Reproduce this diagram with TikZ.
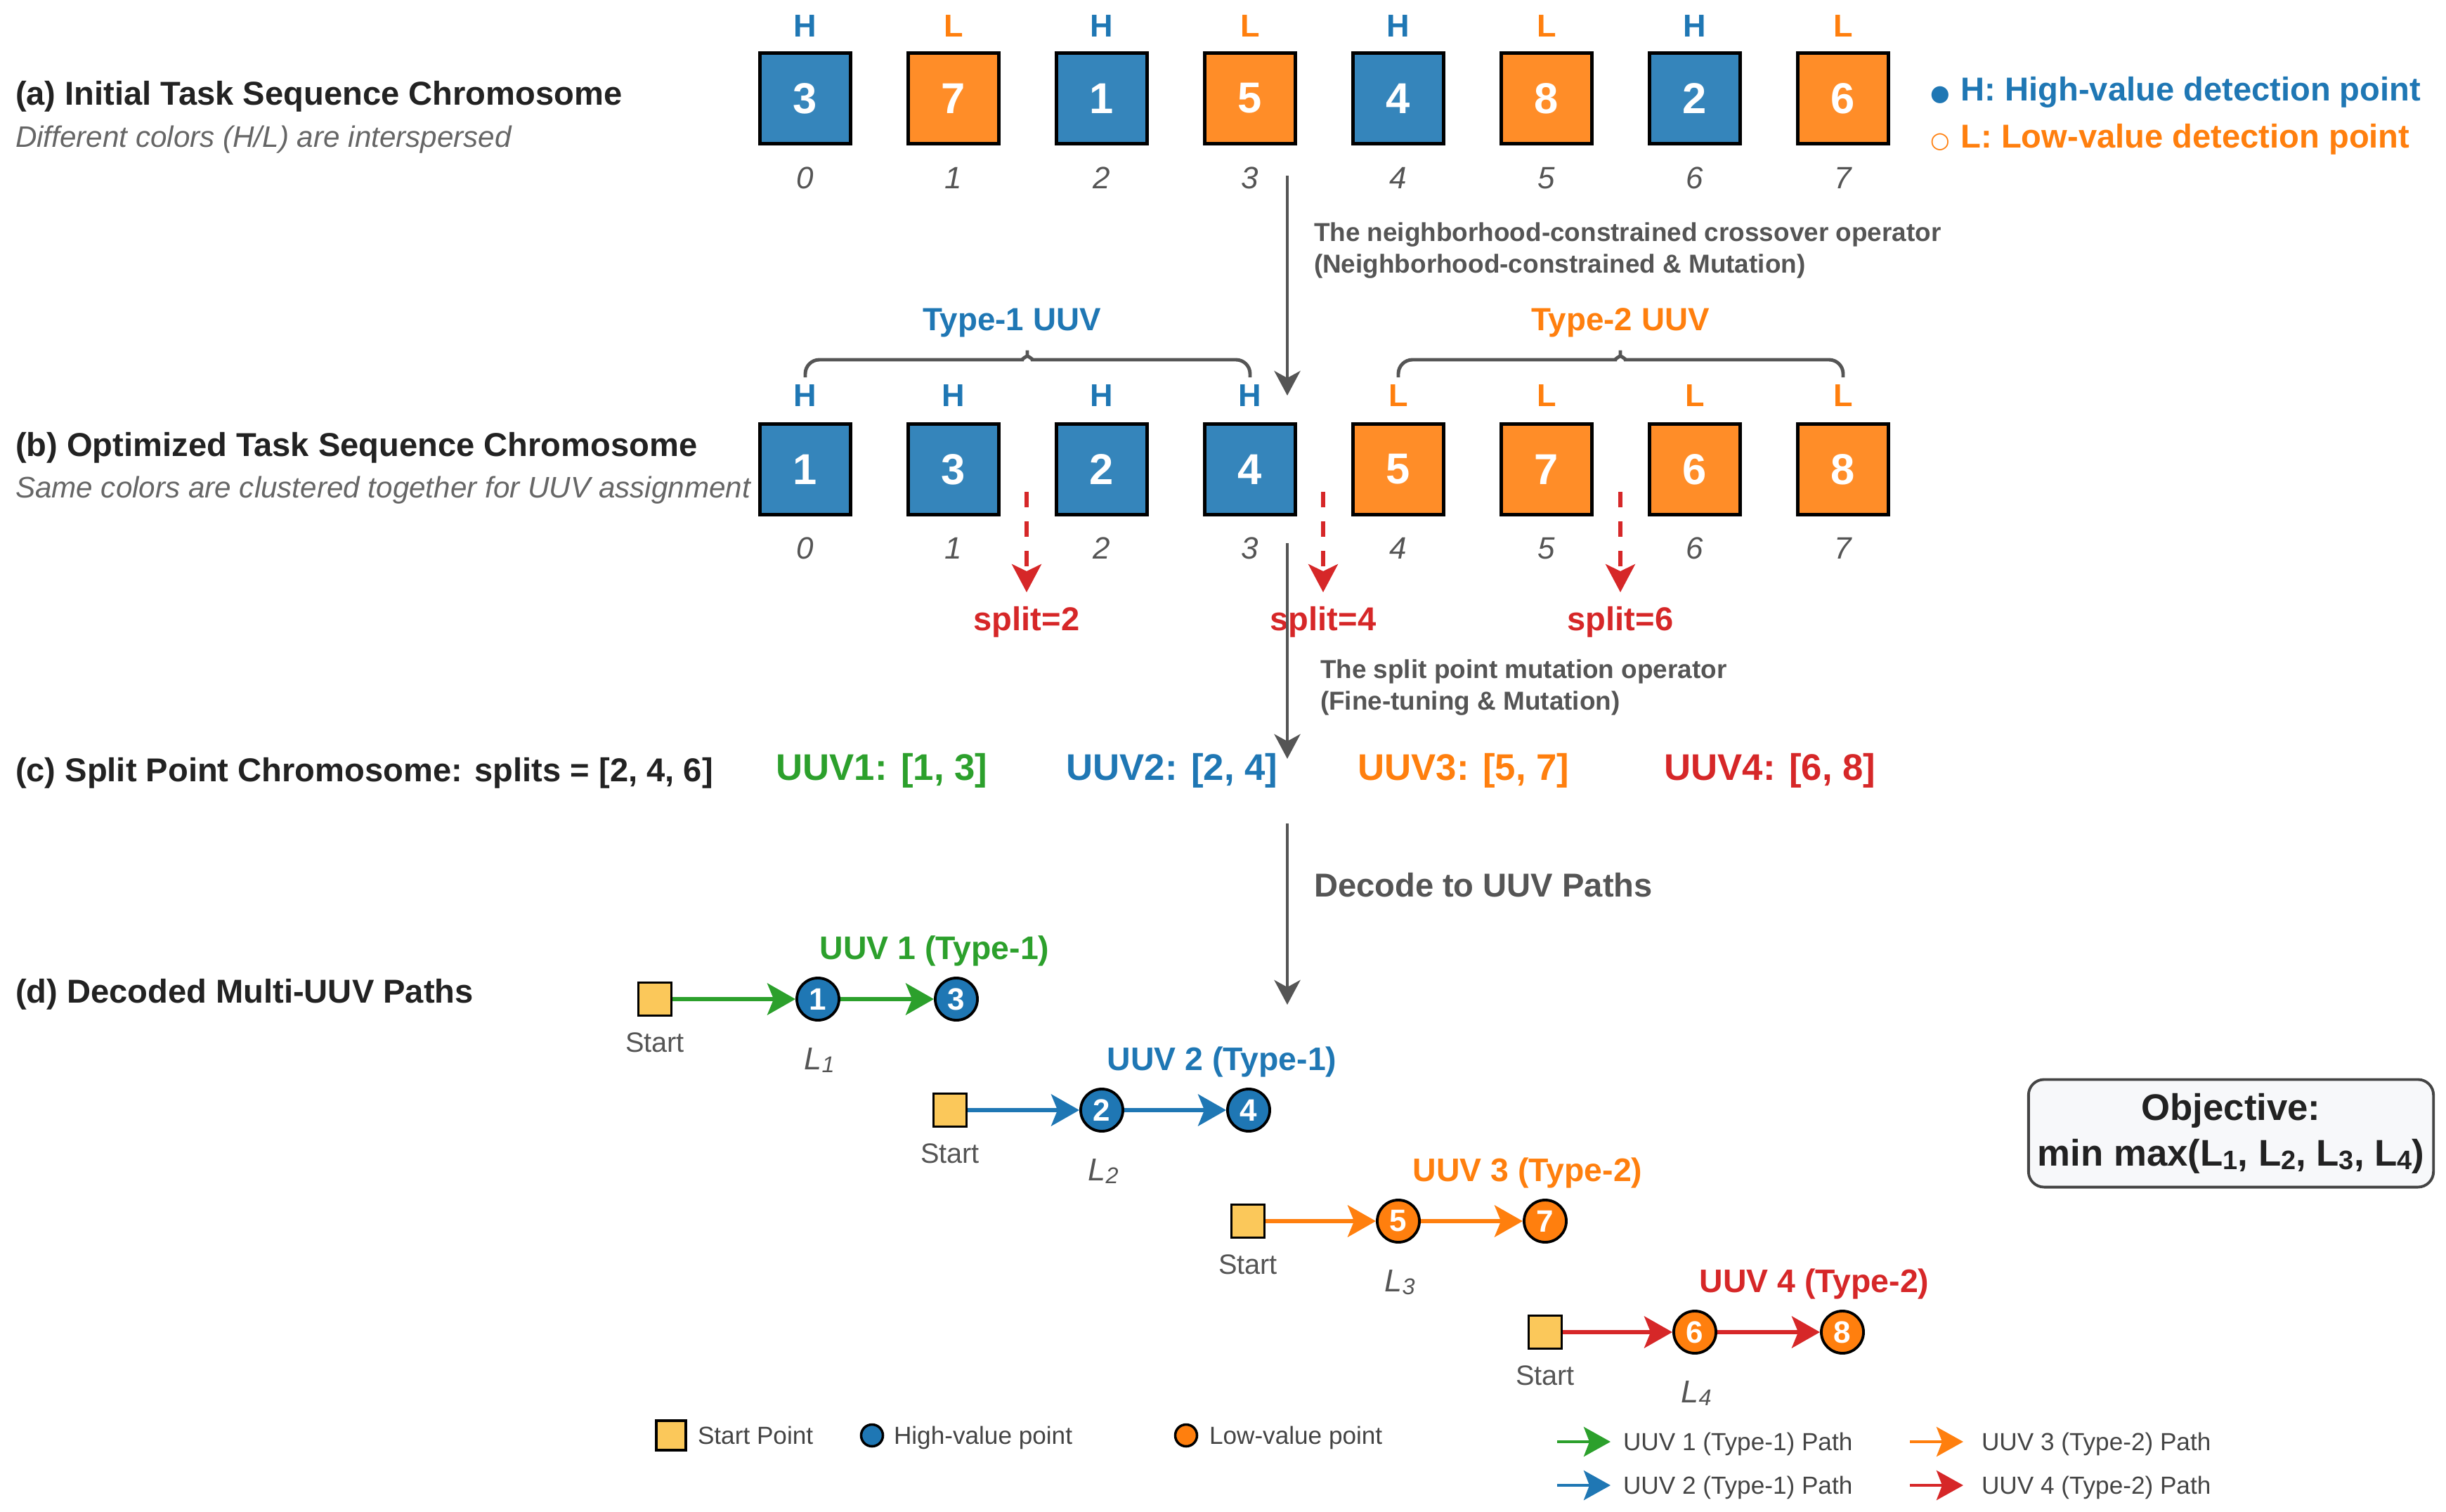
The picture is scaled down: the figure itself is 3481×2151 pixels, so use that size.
\documentclass[tikz,border=0pt]{standalone}
\usepackage{fontspec}
\setmainfont{Liberation Sans}
\newfontfamily\symfont{DejaVu Sans}
\usetikzlibrary{arrows.meta}
\definecolor{cblue}{HTML}{1F77B4}
\definecolor{corange}{HTML}{FF7F0E}
\definecolor{cgreen}{HTML}{2CA02C}
\definecolor{cred}{HTML}{D62728}
\definecolor{bblue}{HTML}{3585BB}
\definecolor{borange}{HTML}{FF8D28}
\definecolor{startyel}{HTML}{FBC85A}
\definecolor{dgray}{HTML}{555555}
\definecolor{tgray}{HTML}{666666}
\definecolor{lgray}{HTML}{444444}
\definecolor{titlec}{HTML}{222222}
\definecolor{objfill}{HTML}{F7F8FA}
\newcommand\fsz[1]{\fontsize{#1}{#1}\selectfont}
\newcommand\lsub[1]{\raisebox{-0.2ex}{\scalebox{0.72}{#1}}}
\begin{document}
\begin{tikzpicture}[x=0.01cm,y=-0.01cm,
  txt/.style={inner sep=0pt, outer sep=0pt},
  title/.style={txt, anchor=base west, font=\bfseries\fsz{13.4}, text=titlec},
  subt/.style={txt, anchor=base west, font=\itshape\fsz{12}, text=tgray},
  gene/.style={draw=black, line width=1.5pt, minimum size=1.29cm, inner sep=0pt, font=\bfseries\fsz{17.5}, text=white},
  hl/.style={txt, anchor=base, font=\bfseries\fsz{12.8}},
  idx/.style={txt, anchor=base, font=\itshape\fsz{12.5}, text=dgray},
  oplab/.style={txt, anchor=base west, font=\bfseries\fsz{10.5}, text=dgray},
  flow/.style={draw=dgray, line width=1.4pt, -{Stealth[length=0.35cm, width=0.37cm, inset=0.1cm]}},
  splitar/.style={draw=cred, line width=1.5pt, dash pattern=on 0.22cm off 0.2cm, -{Stealth[length=0.4cm, width=0.42cm, inset=0.1cm]}},
  splitlab/.style={txt, anchor=base, font=\bfseries\fsz{13.4}, text=cred},
  brc/.style={draw=dgray, line width=1.4pt, rounded corners=0.2cm},
  typelab/.style={txt, anchor=base, font=\bfseries\fsz{13}},
  uuvc/.style={txt, anchor=base, font=\bfseries\fsz{15}},
  startsq/.style={draw=black, line width=1pt, fill=startyel, minimum size=0.47cm, inner sep=0pt},
  pt/.style={circle, draw=black, line width=1.1pt, minimum size=0.6cm, inner sep=0pt, font=\bfseries\fsz{12.5}, text=white},
  pathar/.style={line width=1.7pt, -{Stealth[length=0.4cm, width=0.45cm, inset=0.09cm]}},
  uuvlab/.style={txt, anchor=base, font=\bfseries\fsz{13.2}},
  startlab/.style={txt, anchor=base, font=\fsz{11.3}, text=dgray},
  llab/.style={txt, anchor=base, font=\itshape\fsz{12.8}, text=dgray},
  legtxt/.style={txt, anchor=base west, font=\fsz{10}, text=lgray},
  legar/.style={line width=1.3pt, -{Stealth[length=0.38cm, width=0.42cm, inset=0.08cm]}},
  objbox/.style={draw=lgray, fill=objfill, rounded corners=0.22cm, line width=1.1pt, minimum width=5.76cm, minimum height=1.53cm, align=center, font=\bfseries\fontsize{15}{18.5}\selectfont, text=titlec}
]
\useasboundingbox (0,0) rectangle (3481,2151);

% ---------- left titles ----------
\node[title] (ta) at (22,149) {(a) Initial Task Sequence Chromosome};
\node[subt] (sa) at (22,209) {Different colors (H/L) are interspersed};
\node[title] (tb) at (22,649) {(b) Optimized Task Sequence Chromosome};
\node[subt] (sb) at (22,708) {Same colors are clustered together for UUV assignment};
\node[title] (tc) at (22,1112) {(c) Split Point Chromosome: splits = [2, 4, 6]};
\node[title] (td) at (22,1427) {(d) Decoded Multi-UUV Paths};

% ---------- row (a) ----------
\foreach \v/\t/\f/\c [count=\i from 0] in {3/H/bblue/cblue,7/L/borange/corange,1/H/bblue/cblue,5/L/borange/corange,4/H/bblue/cblue,8/L/borange/corange,2/H/bblue/cblue,6/L/borange/corange}{
  \pgfmathsetmacro\xx{1146+211*\i}
  \node[gene, fill=\f] (a\i) at (\xx,140) {\v};
  \node[hl, text=\c] (ah\i) at (\xx,52) {\t};
  \node[idx] (ai\i) at (\xx,268) {\i};
}

% top-right legend
\node[txt, anchor=base west, font=\bfseries\fsz{13.4}, text=cblue] (legH) at (2747,143) {{\symfont\fsz{9}●}\hspace{0.16cm}H: High-value detection point};
\node[txt, anchor=base west, font=\bfseries\fsz{13.4}, text=corange] (legL) at (2747,210) {{\symfont\fsz{9}○}\hspace{0.16cm}L: Low-value detection point};

% crossover label
\node[oplab] (op1a) at (1870,343) {The neighborhood-constrained crossover operator};
\node[oplab] (op1b) at (1870,388) {(Neighborhood-constrained \& Mutation)};

% ---------- row (b) ----------
\node[typelab, text=cblue] (ty1) at (1440,470) {Type-1 UUV};
\node[typelab, text=corange] (ty2) at (2306,470) {Type-2 UUV};
\draw[brc] (1146,537) -- (1146,512) -- (1435,512) .. controls (1453,512) and (1462,506) .. (1462,487) .. controls (1462,506) and (1471,512) .. (1489,512) -- (1779,512) -- (1779,537);
\draw[brc] (1990,537) -- (1990,512) -- (2279,512) .. controls (2297,512) and (2306,506) .. (2306,487) .. controls (2306,506) and (2315,512) .. (2333,512) -- (2623,512) -- (2623,537);

\foreach \v/\t/\f/\c [count=\i from 0] in {1/H/bblue/cblue,3/H/bblue/cblue,2/H/bblue/cblue,4/H/bblue/cblue,5/L/borange/corange,7/L/borange/corange,6/L/borange/corange,8/L/borange/corange}{
  \pgfmathsetmacro\xx{1146+211*\i}
  \node[gene, fill=\f] (b\i) at (\xx,668) {\v};
  \node[hl, text=\c] (bh\i) at (\xx,578) {\t};
  \node[idx] (bi\i) at (\xx,795) {\i};
}

% split arrows
\foreach \x/\k in {1461/2,1883/4,2306/6}{
  \coordinate (sp\k s) at (\x,700);
  \coordinate (sp\k e) at (\x,843);
  \draw[splitar] (sp\k s) -- (sp\k e);
  \node[splitlab] (spl\k) at (\x,897) {split=\k};
}

% split-point operator label
\node[oplab] (op2a) at (1879,965) {The split point mutation operator};
\node[oplab] (op2b) at (1879,1010) {(Fine-tuning \& Mutation)};

% ---------- row (c) ----------
\node[uuvc, text=cgreen] (u1) at (1255,1110) {UUV1: [1, 3]};
\node[uuvc, text=cblue] (u2) at (1668,1110) {UUV2: [2, 4]};
\node[uuvc, text=corange] (u3) at (2083,1110) {UUV3: [5, 7]};
\node[uuvc, text=cred] (u4) at (2519,1110) {UUV4: [6, 8]};

\node[txt, anchor=base west, font=\bfseries\fsz{13.4}, text=dgray] (dec) at (1870,1276) {Decode to UUV Paths};

% ---------- flow arrows ----------
\coordinate (f1s) at (1832,250); \coordinate (f1e) at (1832,563);
\coordinate (f2s) at (1832,773); \coordinate (f2e) at (1832,1080);
\coordinate (f3s) at (1832,1172); \coordinate (f3e) at (1832,1430);
\draw[flow] (f1s) -- (f1e);
\draw[flow] (f2s) -- (f2e);
\draw[flow] (f3s) -- (f3e);

% ---------- row (d) ----------
% UUV 1
\node[startsq] (s1) at (932,1422) {};
\node[pt, fill=cblue] (c11) at (1164,1422) {1};
\node[pt, fill=cblue] (c12) at (1361,1422) {3};
\draw[pathar, cgreen] (s1) -- (c11);
\draw[pathar, cgreen] (c11) -- (c12);
\node[uuvlab, text=cgreen] (n1) at (1330,1365) {UUV 1 (Type-1)};
\node[startlab] (st1) at (932,1497) {Start};
\node[llab] (l1) at (1166,1522) {L\lsub{1}};
% UUV 2
\node[startsq] (s2) at (1352,1580) {};
\node[pt, fill=cblue] (c21) at (1568,1580) {2};
\node[pt, fill=cblue] (c22) at (1777,1580) {4};
\draw[pathar, cblue] (s2) -- (c21);
\draw[pathar, cblue] (c21) -- (c22);
\node[uuvlab, text=cblue] (n2) at (1739,1523) {UUV 2 (Type-1)};
\node[startlab] (st2) at (1352,1655) {Start};
\node[llab] (l2) at (1570,1680) {L\lsub{2}};
% UUV 3
\node[startsq] (s3) at (1776,1738) {};
\node[pt, fill=corange] (c31) at (1990,1738) {5};
\node[pt, fill=corange] (c32) at (2199,1738) {7};
\draw[pathar, corange] (s3) -- (c31);
\draw[pathar, corange] (c31) -- (c32);
\node[uuvlab, text=corange] (n3) at (2174,1681) {UUV 3 (Type-2)};
\node[startlab] (st3) at (1776,1813) {Start};
\node[llab] (l3) at (1992,1838) {L\lsub{3}};
% UUV 4
\node[startsq] (s4) at (2199,1896) {};
\node[pt, fill=corange] (c41) at (2412,1896) {6};
\node[pt, fill=corange] (c42) at (2622,1896) {8};
\draw[pathar, cred] (s4) -- (c41);
\draw[pathar, cred] (c41) -- (c42);
\node[uuvlab, text=cred] (n4) at (2582,1839) {UUV 4 (Type-2)};
\node[startlab] (st4) at (2199,1971) {Start};
\node[llab] (l4) at (2414,1996) {L\lsub{4}};

% objective
\node[objbox] (obj) at (3175,1613) {Objective:\\min max(L\lsub{1}, L\lsub{2}, L\lsub{3}, L\lsub{4})};

% ---------- bottom legend ----------
\node[startsq, minimum size=0.42cm] (lg1) at (955,2043) {};
\node[legtxt] (lt1) at (993,2055) {Start Point};
\node[circle, draw=black, line width=1pt, fill=cblue, minimum size=0.31cm, inner sep=0pt] (lg2) at (1241,2043) {};
\node[legtxt] (lt2) at (1272,2055) {High-value point};
\node[circle, draw=black, line width=1pt, fill=corange, minimum size=0.31cm, inner sep=0pt] (lg3) at (1688,2043) {};
\node[legtxt] (lt3) at (1721,2055) {Low-value point};

\coordinate (la1s) at (2216,2052); \coordinate (la1e) at (2292,2052);
\coordinate (la2s) at (2216,2114); \coordinate (la2e) at (2292,2114);
\coordinate (la3s) at (2718,2052); \coordinate (la3e) at (2794,2052);
\coordinate (la4s) at (2718,2114); \coordinate (la4e) at (2794,2114);
\draw[legar, cgreen] (la1s) -- (la1e);
\draw[legar, cblue] (la2s) -- (la2e);
\draw[legar, corange] (la3s) -- (la3e);
\draw[legar, cred] (la4s) -- (la4e);
\node[legtxt] (lat1) at (2310,2064) {UUV 1 (Type-1) Path};
\node[legtxt] (lat2) at (2310,2126) {UUV 2 (Type-1) Path};
\node[legtxt] (lat3) at (2820,2064) {UUV 3 (Type-2) Path};
\node[legtxt] (lat4) at (2820,2126) {UUV 4 (Type-2) Path};
\end{tikzpicture}
\end{document}
